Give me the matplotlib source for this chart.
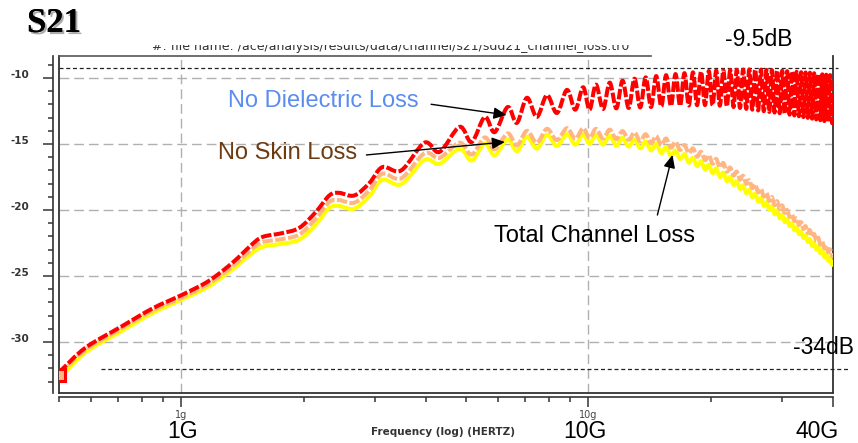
import matplotlib
matplotlib.use("Agg")
import numpy as np
import matplotlib.pyplot as plt
import matplotlib.patheffects as pe
from matplotlib.lines import Line2D
from matplotlib.path import Path
from matplotlib.patches import PathPatch
from matplotlib.transforms import Bbox

# ---------------- data ----------------
freq_ghz = [
    0.50, 0.58, 0.71, 0.85, 1.00, 1.15, 1.27, 1.38, 1.48, 1.58, 1.77, 1.95,
    2.14, 2.31, 2.44, 2.66, 2.90, 3.12, 3.47, 3.96, 4.31, 4.83, 5.17, 5.57,
    5.89, 6.34, 6.68, 7.07, 7.48, 7.92, 8.38, 8.87, 9.30, 9.72, 10.08, 10.45,
    10.88, 11.30, 11.73, 12.15, 12.58, 13.00, 13.43, 13.85, 14.28, 14.70,
    15.13, 15.55, 15.98, 16.40, 16.83, 17.25, 17.68, 18.10, 18.53, 18.95,
    19.38, 19.80, 20.23, 20.65, 21.08, 21.50, 21.93, 22.35, 22.78, 23.20,
    23.63, 24.05, 24.48, 24.90, 25.33, 25.75, 26.18, 26.60, 27.03, 27.45,
    27.88, 28.30, 28.73, 29.15, 29.58, 30.00, 30.43, 30.85, 31.28, 31.70,
    32.13, 32.55, 32.98, 33.40, 33.83, 34.25, 34.68, 35.10, 35.53, 35.95,
    36.38, 36.80, 37.23, 37.65, 38.08, 38.50, 38.93, 39.35, 39.78, 40.00,
]

# No Dielectric Loss (red)
red_db = [
    -32.30, -30.45, -28.85, -27.45, -26.45, -25.50, -24.55, -23.60, -22.70, -22.05, -21.75, -21.35,
    -20.15, -18.90, -18.70, -18.90, -17.95, -16.75, -17.00, -14.90, -15.60, -13.70, -14.85, -12.95,
    -14.10, -12.20, -13.40, -11.50, -12.95, -11.30, -12.65, -10.90, -12.40, -10.70, -12.40, -10.50,
    -12.35, -10.35, -12.30, -10.20, -12.27, -10.05, -12.23, -9.95, -12.20, -9.85,
    -12.15, -9.78, -12.12, -9.70, -12.10, -9.63, -12.08, -9.57, -12.06, -9.52,
    -12.05, -9.47, -12.06, -9.44, -12.10, -9.42, -12.15, -9.40, -12.20, -9.38,
    -12.27, -9.36, -12.34, -9.35, -12.40, -9.35, -12.46, -9.36, -12.52, -9.38,
    -12.57, -9.40, -12.62, -9.42, -12.67, -9.45, -12.72, -9.48, -12.78, -9.50,
    -12.84, -9.53, -12.90, -9.56, -12.96, -9.58, -13.02, -9.60, -13.08, -9.64,
    -13.14, -9.68, -13.20, -9.72, -13.26, -9.75, -13.32, -9.78, -13.38, -11.60,
]

# No Skin Loss (peach)
peach_db = [
    -32.50, -30.60, -29.00, -27.60, -26.65, -25.70, -24.80, -23.90, -23.05, -22.45, -22.20, -21.85,
    -20.65, -19.40, -19.25, -19.45, -18.50, -17.25, -17.60, -15.70, -16.05, -14.90, -15.80, -14.50,
    -15.40, -14.20, -15.10, -14.00, -14.90, -13.85, -14.70, -13.80, -14.60, -13.80, -14.55, -13.85,
    -14.58, -13.91, -14.63, -14.02, -14.68, -14.13, -14.79, -14.26, -14.93, -14.40,
    -15.08, -14.58, -15.28, -14.83, -15.45, -15.08, -15.70, -15.33, -15.96, -15.59,
    -16.21, -15.85, -16.49, -16.13, -16.78, -16.44, -17.09, -16.78, -17.38, -17.09,
    -17.69, -17.41, -18.02, -17.74, -18.34, -18.06, -18.66, -18.38, -18.98, -18.70,
    -19.30, -19.02, -19.62, -19.33, -19.93, -19.65, -20.21, -20.00, -20.52, -20.31,
    -20.83, -20.62, -21.13, -20.92, -21.43, -21.22, -21.73, -21.52, -22.03, -21.82,
    -22.33, -22.10, -22.61, -22.39, -22.90, -22.68, -23.19, -22.98, -23.48, -23.35,
]

# Total Channel Loss (yellow)
yellow_db = [
    -32.80, -30.80, -29.20, -27.80, -26.80, -25.90, -25.00, -24.15, -23.35, -22.80, -22.55, -22.25,
    -21.10, -19.85, -19.70, -19.90, -18.95, -17.70, -18.05, -16.20, -16.50, -15.35, -16.25, -14.95,
    -15.85, -14.65, -15.55, -14.45, -15.35, -14.30, -15.15, -14.25, -15.05, -14.25, -15.00, -14.30,
    -15.04, -14.38, -15.12, -14.52, -15.19, -14.65, -15.33, -14.81, -15.49, -14.98,
    -15.69, -15.21, -15.93, -15.49, -16.13, -15.77, -16.41, -16.05, -16.68, -16.31,
    -16.93, -16.57, -17.21, -16.85, -17.50, -17.16, -17.81, -17.50, -18.10, -17.81,
    -18.41, -18.13, -18.74, -18.46, -19.05, -18.77, -19.37, -19.09, -19.69, -19.41,
    -20.00, -19.72, -20.32, -20.03, -20.63, -20.35, -20.91, -20.70, -21.22, -21.01,
    -21.53, -21.32, -21.83, -21.62, -22.12, -21.91, -22.42, -22.20, -22.71, -22.50,
    -23.00, -22.77, -23.28, -23.06, -23.57, -23.35, -23.85, -23.64, -24.14, -24.01,
]

ref_hi_db = -9.27          # "-9.5dB" marker line
ref_lo_db = -32.05         # "-34dB" marker line
ref_hi_span_ghz = [0.50, 41.2]
ref_lo_span_ghz = [0.635, 43.6]

y_major = [-30, -25, -20, -15, -10]
y_major_labels = ["-30", "-25", "-20", "-15", "-10"]
y_minor = list(range(-33, -8))
x_major = [1, 10, 40]
x_major_labels = ["1g", "10g", ""]
x_minor = [0.5, 0.6, 0.7, 0.8, 0.9, 2, 3, 4, 5, 6, 7, 8, 9, 20, 30]
big_x_labels = ["1G", "10G", "40G"]

series_names = ["No Dielectric Loss", "No Skin Loss", "Total Channel Loss"]


def smooth_curve_path(fs, ys):
    """Smooth (Catmull-Rom style Bezier) path through the data points, built in
    log-frequency space; the axes' log scale maps it back onto the plot."""
    lx = np.log10(np.asarray(fs, dtype=float))
    y = np.asarray(ys, dtype=float)
    n = len(lx)
    tx = np.empty(n)
    ty = np.empty(n)
    tx[1:-1] = (lx[2:] - lx[:-2]) / 2
    ty[1:-1] = (y[2:] - y[:-2]) / 2
    tx[0], ty[0] = lx[1] - lx[0], y[1] - y[0]
    tx[-1], ty[-1] = lx[-1] - lx[-2], y[-1] - y[-2]
    verts = [(lx[0], y[0])]
    codes = [Path.MOVETO]
    for i in range(n - 1):
        verts += [(lx[i] + tx[i] / 3, y[i] + ty[i] / 3),
                  (lx[i + 1] - tx[i + 1] / 3, y[i + 1] - ty[i + 1] / 3),
                  (lx[i + 1], y[i + 1])]
        codes += [Path.CURVE4] * 3
    verts = [(10 ** vx, vy) for vx, vy in verts]
    return Path(verts, codes)


# ---------------- figure ----------------
W, H = 858, 443
fig = plt.figure(figsize=(W / 100, H / 100), dpi=100)
fig.patch.set_facecolor("white")


def fx(px):
    return px / W


def fy(py):
    return 1 - py / H


ax = fig.add_axes([fx(59), fy(393), (833 - 59) / W, (393 - 56) / H])
ax.set_xscale("log")
ax.set_xlim(0.5, 40)
ax.set_ylim(-33.864, -8.333)

frame_col = "#333333"
ax.spines["top"].set_visible(False)
ax.spines["right"].set_color(frame_col)
ax.spines["right"].set_linewidth(1.3)
for s in ("left", "bottom"):
    ax.spines[s].set_color(frame_col)
    ax.spines[s].set_linewidth(1.2)
ax.spines["left"].set_position(("outward", 4.3))
ax.spines["bottom"].set_position(("outward", 3.2))

ax.add_line(Line2D([0, 0], [0, 1], transform=ax.transAxes, color=frame_col,
                   lw=1.3, clip_on=False, zorder=6))
ax.add_line(Line2D([0, 1], [0, 0], transform=ax.transAxes, color=frame_col,
                   lw=1.3, clip_on=False, zorder=6))
ax.add_line(Line2D([0, (651 - 59) / 774], [1, 1], transform=ax.transAxes,
                   color="#555555", lw=1.2, clip_on=False, zorder=6))

# ticks
ax.set_yticks(y_major)
ax.set_yticklabels(y_major_labels)
ax.set_yticks(y_minor, minor=True)
ax.set_xticks(x_major)
ax.set_xticklabels(x_major_labels)
ax.set_xticks(x_minor, minor=True)
ax.xaxis.set_minor_formatter(plt.NullFormatter())

ax.tick_params(axis="y", which="major", length=7.2, width=1.1, color=frame_col,
               pad=10, labelsize=7.5, labelcolor="#333333")
ax.tick_params(axis="y", which="minor", length=3.6, width=1.1, color=frame_col)
ax.tick_params(axis="x", which="major", length=7.2, width=1.1, color=frame_col,
               pad=2, labelsize=7, labelcolor="#444444")
ax.tick_params(axis="x", which="minor", length=3.6, width=1.1, color=frame_col)
for lab in ax.get_yticklabels():
    lab.set_fontweight("bold")
    lab.set_va("baseline")

# grid
ax.grid(True, which="major", color="#b0b0b0", linestyle=(0, (7, 3.6)), lw=1.0)
ax.set_axisbelow(True)

# reference dashed lines
ax.plot(ref_hi_span_ghz, [ref_hi_db, ref_hi_db], color="#222222", lw=0.9,
        linestyle=(0, (3.2, 2.2)), clip_on=False, zorder=3)
ax.plot(ref_lo_span_ghz, [ref_lo_db, ref_lo_db], color="#222222", lw=0.9,
        linestyle=(0, (3.2, 2.2)), clip_on=False, zorder=3)

# curves (smooth paths through the read points)
curve_styles = [
    (yellow_db, "#ffff00", "solid", 4, series_names[2]),
    (peach_db, "#ffb682", (0, (2.6, 0.6)), 5, series_names[1]),
    (red_db, "#ff0000", (0, (2.6, 0.6)), 6, series_names[0]),
]
for vals, col, ls, z, name in curve_styles:
    patch = PathPatch(smooth_curve_path(freq_ghz, vals), fill=False,
                      edgecolor=col, lw=2.9, linestyle=ls, zorder=z,
                      joinstyle="round", capstyle="butt", label=name)
    ax.add_patch(patch)

ax.plot(freq_ghz[:1], peach_db[:1], marker="s", ms=9, mfc="#ffb682",
        mec="#ff0000", mew=2.2, zorder=7, linestyle="none")

# annotations (arrows)
arrow_kw = dict(arrowstyle="-|>,head_length=0.55,head_width=0.25",
                color="black", lw=1.0, mutation_scale=14,
                shrinkA=0, shrinkB=0)
ax.annotate("", xy=(6.30, -12.80), xytext=(4.11, -11.99), arrowprops=arrow_kw, zorder=8)
ax.annotate("", xy=(6.24, -14.85), xytext=(2.85, -15.83), arrowprops=arrow_kw, zorder=8)
ax.annotate("", xy=(16.12, -15.83), xytext=(14.8, -20.38), arrowprops=arrow_kw, zorder=8)

sans = ["Liberation Sans", "DejaVu Sans"]
fig.text(fx(228), fy(107), series_names[0], color="#5b8def", fontsize=17,
         family=sans, ha="left", va="baseline")
fig.text(fx(218), fy(159), series_names[1], color="#6e3b10", fontsize=17,
         family=sans, ha="left", va="baseline")
fig.text(fx(494), fy(242.5), series_names[2], color="black", fontsize=17,
         family=sans, ha="left", va="baseline")

fig.text(fx(725), fy(46), "-9.5dB", color="black", fontsize=16.5,
         family=sans, ha="left", va="baseline")
fig.text(fx(793), fy(354), "-34dB", color="black", fontsize=16.5,
         family=sans, ha="left", va="baseline", zorder=10)

for lab, cx in zip(big_x_labels, [182.5, 585, 817]):
    fig.text(fx(cx), fy(438), lab, color="black", fontsize=16.5,
             family=sans, ha="center", va="baseline")

fig.text(fx(443), fy(435), "Frequency (log) (HERTZ)", color="#333333",
         fontsize=7.5, fontweight="bold", family=["DejaVu Sans"],
         ha="center", va="baseline")

# S21 heading with soft shadow
fig.text(fx(27), fy(32), "S21", fontsize=25, fontweight="bold",
         family=["Liberation Serif", "DejaVu Serif"], color="black",
         ha="left", va="baseline",
         path_effects=[pe.withSimplePatchShadow(offset=(1.5, -1.5),
                                                shadow_rgbFace="#888888",
                                                alpha=0.7), pe.Normal()])

# partially hidden file-name caption above the plot
cap = fig.text(fx(152), fy(50),
               "#: file name: /ace/analysis/results/data/channel/s21/sdd21_channel_loss.tr0",
               fontsize=9, color="#333333", family=["DejaVu Sans"],
               ha="left", va="baseline")
cap.set_clip_box(Bbox.from_extents(0, 0, W, H - 44.5))
cap.set_clip_on(True)

fig.savefig("out.png", dpi=100, facecolor="white")
